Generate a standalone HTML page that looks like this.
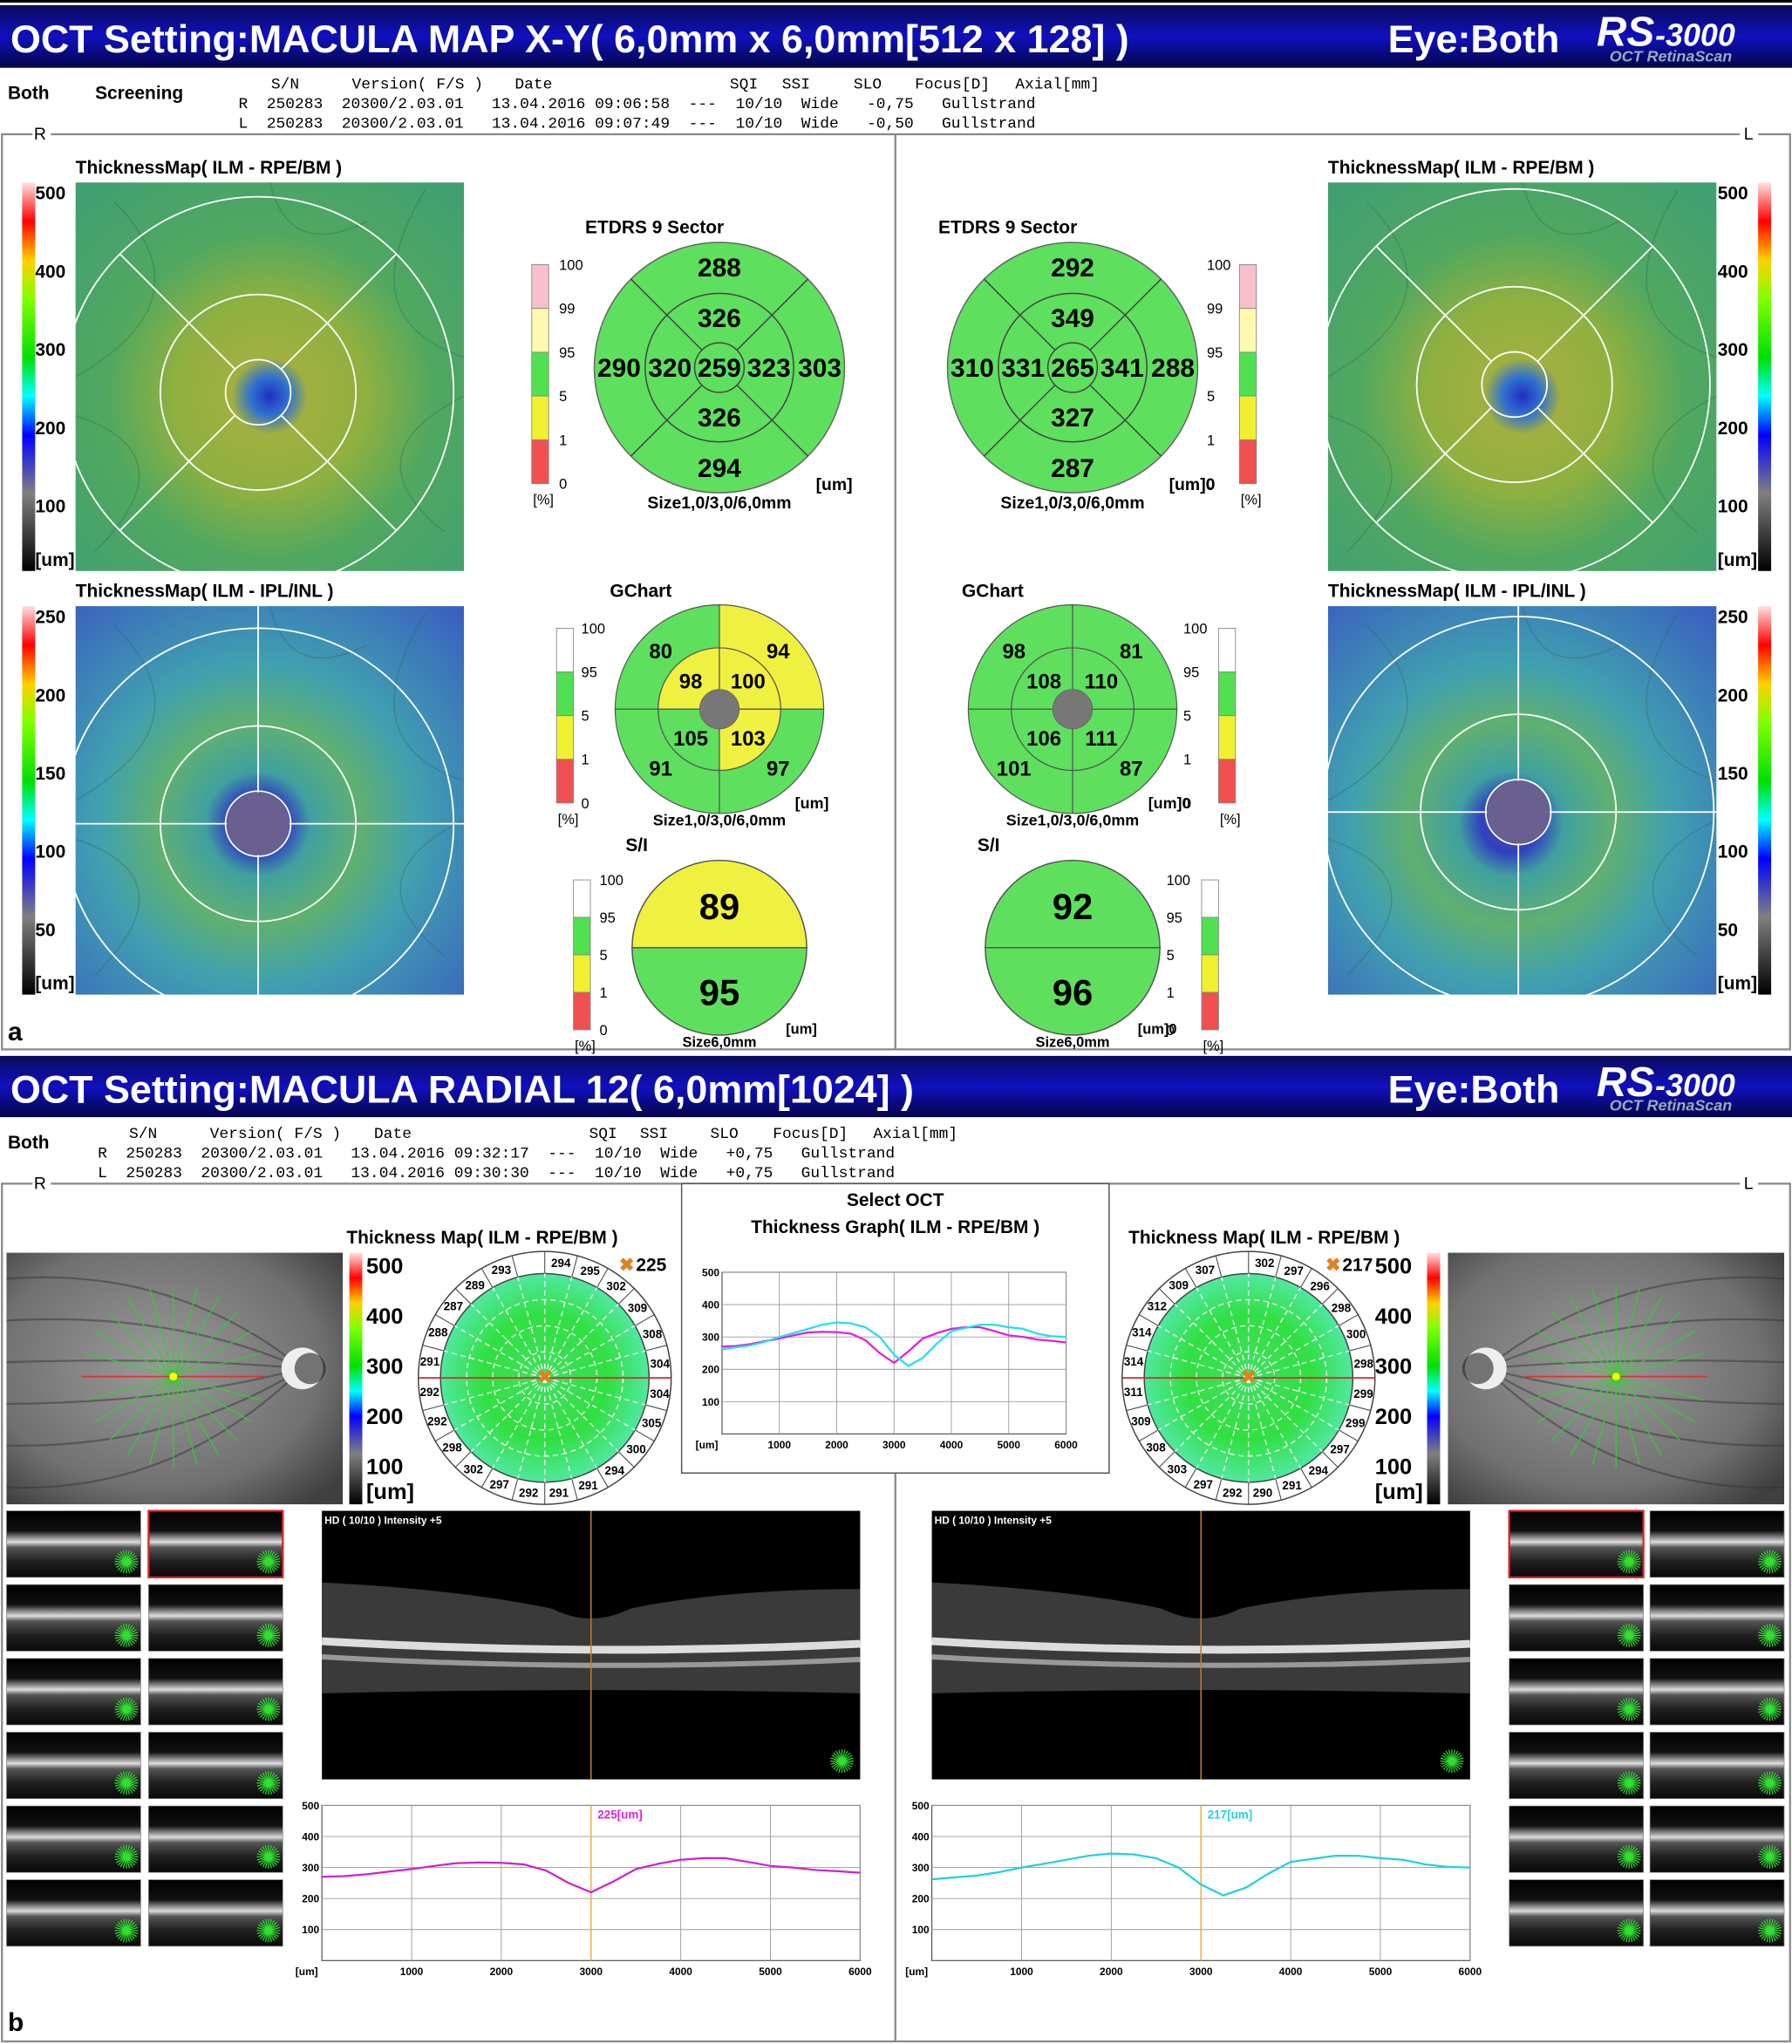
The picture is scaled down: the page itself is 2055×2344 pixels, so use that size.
<!DOCTYPE html>
<html><head><meta charset="utf-8">
<style>
html,body{margin:0;padding:0;background:#fff;}
svg{display:block;font-family:"Liberation Sans",Arial,sans-serif;}
.mono{font-family:"Liberation Mono",monospace;white-space:pre;}
.mono text{white-space:pre;}
</style></head>
<body>
<svg id="root" width="2055" height="2344" viewBox="0 0 1375 1568" preserveAspectRatio="none" xmlns="http://www.w3.org/2000/svg" xml:space="preserve">
<defs>
<linearGradient id="hdr" x1="0" y1="0" x2="0" y2="1"><stop offset="0" stop-color="#0a0a5a"/><stop offset="0.5" stop-color="#1010c0"/><stop offset="1" stop-color="#05054a"/></linearGradient>
<linearGradient id="rainbow" x1="0" y1="0" x2="0" y2="1">
<stop offset="0" stop-color="#ffe0e0"/><stop offset="0.1" stop-color="#ff0000"/><stop offset="0.2" stop-color="#ffd000"/><stop offset="0.3" stop-color="#80ff00"/><stop offset="0.45" stop-color="#00e000"/><stop offset="0.55" stop-color="#00ffff"/><stop offset="0.65" stop-color="#0000ff"/><stop offset="0.8" stop-color="#808080"/><stop offset="1" stop-color="#000"/></linearGradient>
<radialGradient id="thick1" cx="0.5" cy="0.55" r="0.7"><stop offset="0" stop-color="#2030c0"/><stop offset="0.07" stop-color="#3070d0"/><stop offset="0.14" stop-color="#a0b040"/><stop offset="0.35" stop-color="#90b040"/><stop offset="0.6" stop-color="#50a860"/><stop offset="1" stop-color="#40a070"/></radialGradient>
<radialGradient id="thick2" cx="0.47" cy="0.56" r="0.75"><stop offset="0" stop-color="#5050a0"/><stop offset="0.1" stop-color="#3040c0"/><stop offset="0.18" stop-color="#40a0a0"/><stop offset="0.35" stop-color="#60b070"/><stop offset="0.55" stop-color="#40a0b0"/><stop offset="1" stop-color="#3a60c0"/></radialGradient>
<radialGradient id="polar" cx="0.5" cy="0.5" r="0.5"><stop offset="0" stop-color="#40e060"/><stop offset="0.6" stop-color="#30e040"/><stop offset="1" stop-color="#50e8a0"/></radialGradient>
<radialGradient id="fundus" cx="0.45" cy="0.45" r="0.7"><stop offset="0" stop-color="#9a9a9a"/><stop offset="0.7" stop-color="#707070"/><stop offset="1" stop-color="#404040"/></radialGradient>
<linearGradient id="bscan" x1="0" y1="0" x2="0" y2="1"><stop offset="0" stop-color="#000"/><stop offset="0.3" stop-color="#111"/><stop offset="0.4" stop-color="#888"/><stop offset="0.47" stop-color="#ddd"/><stop offset="0.55" stop-color="#555"/><stop offset="0.75" stop-color="#222"/><stop offset="1" stop-color="#080808"/></linearGradient>
</defs>

<rect x="0" y="0" width="1375" height="2" fill="#000"/>
<rect x="0" y="4" width="1375" height="48" fill="url(#hdr)"/>
<text x="8" y="40" font-size="30" font-weight="bold" fill="#fff">OCT Setting:MACULA MAP X-Y( 6,0mm x 6,0mm[512 x 128] )</text>
<text x="1065" y="40" font-size="30" font-weight="bold" fill="#fff">Eye:Both</text>
<g><text x="1225" y="35" font-size="32" font-weight="bold" font-style="italic" fill="#fff">RS</text><text x="1270" y="35" font-size="24" font-weight="bold" font-style="italic" fill="#fff">-3000</text><text x="1235" y="47" font-size="12" font-weight="bold" font-style="italic" fill="#9ab">OCT RetinaScan</text></g>

<g font-size="14">
<text x="6" y="76" font-weight="bold">Both</text><text x="73" y="76" font-weight="bold">Screening</text>
<g class="mono" font-size="12">
<text x="208" y="68">S/N</text><text x="270" y="68">Version( F/S )</text><text x="395" y="68">Date</text><text x="560" y="68">SQI</text><text x="600" y="68">SSI</text><text x="655" y="68">SLO</text><text x="702" y="68">Focus[D]</text><text x="779" y="68">Axial[mm]</text>
<text x="183" y="83">R  250283  20300/2.03.01   13.04.2016 09:06:58  ---  10/10  Wide   -0,75   Gullstrand</text>
<text x="183" y="98">L  250283  20300/2.03.01   13.04.2016 09:07:49  ---  10/10  Wide   -0,50   Gullstrand</text>
</g></g>

<rect x="1.5" y="103" width="1372" height="702" fill="none" stroke="#888" stroke-width="1.5"/>
<line x1="687" y1="103" x2="687" y2="805" stroke="#888" stroke-width="1.5"/>
<rect x="25" y="97" width="14" height="12" fill="#fff"/><text x="26" y="107" font-size="13">R</text>
<rect x="1335" y="97" width="14" height="12" fill="#fff"/><text x="1338" y="107" font-size="13">L</text>
<text x="6" y="798" font-size="20" font-weight="bold">a</text>

<g id="panelA"></g>

<rect x="0" y="810" width="1375" height="47" fill="url(#hdr)"/>
<text x="8" y="846" font-size="30" font-weight="bold" fill="#fff">OCT Setting:MACULA RADIAL 12( 6,0mm[1024] )</text>
<text x="1065" y="846" font-size="30" font-weight="bold" fill="#fff">Eye:Both</text>
<g><text x="1225" y="841" font-size="32" font-weight="bold" font-style="italic" fill="#fff">RS</text><text x="1270" y="841" font-size="24" font-weight="bold" font-style="italic" fill="#fff">-3000</text><text x="1235" y="852" font-size="12" font-weight="bold" font-style="italic" fill="#9ab">OCT RetinaScan</text></g>

<g font-size="14">
<text x="6" y="881" font-weight="bold">Both</text>
<g class="mono" font-size="12">
<text x="99" y="873">S/N</text><text x="161" y="873">Version( F/S )</text><text x="287" y="873">Date</text><text x="452" y="873">SQI</text><text x="491" y="873">SSI</text><text x="545" y="873">SLO</text><text x="593" y="873">Focus[D]</text><text x="670" y="873">Axial[mm]</text>
<text x="75" y="888">R  250283  20300/2.03.01   13.04.2016 09:32:17  ---  10/10  Wide   +0,75   Gullstrand</text>
<text x="75" y="903">L  250283  20300/2.03.01   13.04.2016 09:30:30  ---  10/10  Wide   +0,75   Gullstrand</text>
</g></g>

<rect x="1.5" y="908" width="1372" height="658" fill="none" stroke="#888" stroke-width="1.5"/>
<line x1="687" y1="1130" x2="687" y2="1566" stroke="#888" stroke-width="1.5"/>
<rect x="25" y="902" width="14" height="12" fill="#fff"/><text x="26" y="912" font-size="13">R</text>
<rect x="1335" y="902" width="14" height="12" fill="#fff"/><text x="1338" y="912" font-size="13">L</text>
<text x="6" y="1558" font-size="20" font-weight="bold">b</text>
<rect x="523" y="908" width="328" height="222" fill="#fff" stroke="#555"/>
<text x="687" y="925" font-size="14" font-weight="bold" text-anchor="middle">Select OCT</text>
<text x="687" y="946" font-size="14" font-weight="bold" text-anchor="middle">Thickness Graph( ILM - RPE/BM )</text>
<text x="370" y="954" font-size="14" font-weight="bold" text-anchor="middle">Thickness Map( ILM - RPE/BM )</text>
<text x="970" y="954" font-size="14" font-weight="bold" text-anchor="middle">Thickness Map( ILM - RPE/BM )</text>

<g id="panelB"></g>
</svg>

<script>
const graphX = [0,250,500,750,1000,1250,1500,1750,2000,2250,2500,2750,3000,3250,3500,3750,4000,4250,4500,4750,5000,5250,5500,5750,6000];
const rightEyeThickness = [270,272,278,287,295,305,314,316,315,310,290,250,220,255,295,312,325,330,330,318,305,300,292,288,283];
const leftEyeThickness = [262,268,274,285,300,312,325,338,345,342,330,300,245,210,235,280,318,328,338,338,330,325,310,302,300];
const yTicks = [100,200,300,400,500];
const xTicks = [1000,2000,3000,4000,5000,6000];
const etdrsR = [288,326,290,320,259,323,303,326,294];
const etdrsL = [292,349,310,331,265,341,288,327,287];
const gchartR = [80,94,98,100,105,103,91,97];
const gchartL = [98,81,108,110,106,111,101,87];
const siR = [89,95];
const siL = [92,96];
const polarLabelsR = [294,295,302,309,308,304,304,305,300,294,291,291,292,297,302,298,292,292,291,288,287,289,293];
const polarLabelsL = [302,297,296,298,300,298,299,299,297,294,291,290,292,297,303,308,309,311,314,314,312,309,307];

const NS="http://www.w3.org/2000/svg";
function el(parent,tag,attrs,txt){const e=document.createElementNS(NS,tag);for(const k in attrs)e.setAttribute(k,attrs[k]);if(txt!==undefined)e.textContent=txt;parent.appendChild(e);return e;}
const A=document.getElementById('panelA'), B=document.getElementById('panelB');

function thickMap(x,y,s,grad,cross,rc,titleX,title){
  const g=el(A,'g',{});
  
  
  el(g,'rect',{x:x,y:y,width:s,height:s,fill:'url(#'+grad+')'});
  const vs=[[0.1,0.05,0.35,0.3,0.0,0.5],[0.9,0.02,0.7,0.35,1.0,0.45],[0.05,0.95,0.3,0.7,0.0,0.6],[0.95,0.9,0.7,0.7,1.0,0.55],[0.5,0.0,0.55,0.2,0.75,0.1]];
  vs.forEach(v=>el(g,'path',{d:`M${x+v[0]*s} ${y+v[1]*s} Q ${x+v[2]*s} ${y+v[3]*s} ${x+v[4]*s} ${y+v[5]*s}`,stroke:'#2a5a4a','stroke-width':1,fill:'none',opacity:0.3}));
  const cx=x+s*rc[0], cy=y+s*rc[1];
  [25,75,150].forEach(r=>el(g,'circle',{cx:cx,cy:cy,r:r,fill:'none',stroke:'#fff','stroke-width':1.2}));
  if(cross){
    el(g,'line',{x1:x,y1:cy,x2:x+s,y2:cy,stroke:'#fff','stroke-width':1.2});
    el(g,'line',{x1:cx,y1:y,x2:cx,y2:y+s,stroke:'#fff','stroke-width':1.2});
    el(g,'circle',{cx:cx,cy:cy,r:24,fill:'#6a6090'});
  } else {
    const d=25/Math.SQRT2,D=150/Math.SQRT2;
    [[1,1],[1,-1],[-1,1],[-1,-1]].forEach(([a,b])=>el(g,'line',{x1:cx+a*d,y1:cy+b*d,x2:cx+a*D,y2:cy+b*D,stroke:'#fff','stroke-width':1.2}));
  }
  el(g,'text',{x:titleX,y:y-7,'font-size':14,'font-weight':'bold'},title);
}
function colorbar(parent,x,y,h,labels,tx){
  el(parent,'rect',{x:x,y:y,width:10,height:h,fill:'url(#rainbow)'});
  labels.forEach((l,i)=>{const yy=(i==labels.length-1)?y+h-4:y+13+i*60;el(parent,'text',{x:tx,y:yy,'font-size':14,'font-weight':'bold'},l);});
}
thickMap(58,140,298,'thick1',false,[0.47,0.54],58,'ThicknessMap( ILM - RPE/BM )');
thickMap(58,465,298,'thick2',true,[0.47,0.56],58,'ThicknessMap( ILM - IPL/INL )');
thickMap(1019,140,298,'thick1',false,[0.48,0.52],1019,'ThicknessMap( ILM - RPE/BM )');
thickMap(1019,465,298,'thick2',true,[0.49,0.53],1019,'ThicknessMap( ILM - IPL/INL )');
colorbar(A,17,140,298,['500','400','300','200','100','[um]'],27);
colorbar(A,17,465,298,['250','200','150','100','50','[um]'],27);
colorbar(A,1349,140,298,['500','400','300','200','100','[um]'],1318);
colorbar(A,1349,465,298,['250','200','150','100','50','[um]'],1318);

function pbar(x,y,h,labelsRight,lx){
  const g=el(A,'g',{});
  
  
  const segs=[['#f8c0cc',0.2],['#fff8b0',0.2],['#50e050',0.2],['#f0f030',0.2],['#f05050',0.2]];
  let yy=y;segs.forEach(s=>{el(g,'rect',{x:x,y:yy,width:13,height:h*s[1],fill:s[0],stroke:'#888','stroke-width':0.6});yy+=h*s[1];});
  ['100','99','95','5','1','0'].forEach((t,i)=>el(g,'text',{x:lx,y:y+4+i*h/5,'font-size':11},t));
  el(g,'text',{x:x+1,y:y+h+16,'font-size':11},'[%]');
}
pbar(408,203,168,true,429);
pbar(951,203,168,true,926);

function etdrs(cx,cy,vals,title,tx){
  const g=el(A,'g',{});
  
  
  el(g,'text',{x:tx,y:179,'font-size':14,'font-weight':'bold'},title);
  el(g,'circle',{cx:cx,cy:cy,r:96,fill:'#5ee05e',stroke:'#666'});
  el(g,'circle',{cx:cx,cy:cy,r:57,fill:'none',stroke:'#444'});
  el(g,'circle',{cx:cx,cy:cy,r:19,fill:'none',stroke:'#444'});
  const d1=19/Math.SQRT2,d2=96/Math.SQRT2;
  [[1,1],[1,-1],[-1,1],[-1,-1]].forEach(([a,b])=>el(g,'line',{x1:cx+a*d1,y1:cy+b*d1,x2:cx+a*d2,y2:cy+b*d2,stroke:'#444'}));
  const pos=[[0,-77],[0,-38],[-77,0],[-38,0],[0,0],[38,0],[77,0],[0,38],[0,77]];
  pos.forEach((p,i)=>el(g,'text',{x:cx+p[0],y:cy+p[1]+7,'font-size':20,'font-weight':'bold','text-anchor':'middle'},vals[i]));
  el(g,'text',{x:cx,y:390,'font-size':13,'font-weight':'bold','text-anchor':'middle'},'Size1,0/3,0/6,0mm');
}
etdrs(552,282,etdrsR,'ETDRS 9 Sector',449);
etdrs(823,282,etdrsL,'ETDRS 9 Sector',720);
el(A,'text',{x:626,y:376,'font-size':13,'font-weight':'bold'},'[um]');
el(A,'text',{x:897,y:376,'font-size':13,'font-weight':'bold'},'[um]0');

function smallBar(x,y,h,lx){
  const g=el(A,'g',{});
  
  
  const segs=[['#fff',0.25],['#50e050',0.25],['#f0f030',0.25],['#f05050',0.25]];
  let yy=y;segs.forEach(s=>{el(g,'rect',{x:x,y:yy,width:13,height:h*s[1],fill:s[0],stroke:'#888','stroke-width':0.6});yy+=h*s[1];});
  ['100','95','5','1','0'].forEach((t,i)=>el(g,'text',{x:lx,y:y+4+i*h/4,'font-size':11},t));
  el(g,'text',{x:x+1,y:y+h+16,'font-size':11},'[%]');
}
smallBar(427,482,134,446);smallBar(935,482,134,908);
function sector(g,cx,cy,r0,r1,a0,a1,fill){
  const p=(r,a)=>[cx+r*Math.cos(a*Math.PI/180),cy+r*Math.sin(a*Math.PI/180)];
  const [x1,y1]=p(r1,a0),[x2,y2]=p(r1,a1),[x3,y3]=p(r0,a1),[x4,y4]=p(r0,a0);
  el(g,'path',{d:`M${x1} ${y1}A${r1} ${r1} 0 0 1 ${x2} ${y2}L${x3} ${y3}A${r0} ${r0} 0 0 0 ${x4} ${y4}Z`,fill:fill,stroke:'#555','stroke-width':0.8});
}
function gchart(cx,cy,vals,colsOuter,colsInner,tx){
  const g=el(A,'g',{});
  
  
  el(g,'text',{x:tx,y:458,'font-size':14,'font-weight':'bold'},'GChart');
  const angs=[[180,270],[270,360],[90,180],[0,90]];
  angs.forEach((a,i)=>sector(g,cx,cy,47,80,a[0],a[1],colsOuter[i]));
  angs.forEach((a,i)=>sector(g,cx,cy,15,47,a[0],a[1],colsInner[i]));
  el(g,'circle',{cx:cx,cy:cy,r:15,fill:'#777'});
  const op=[[-45,-45],[45,-45],[-45,45],[45,45]],ip=[[-22,-22],[22,-22],[-22,22],[22,22]];
  const P=[op[0],op[1],ip[0],ip[1],ip[2],ip[3],op[2],op[3]];
  P.forEach((p,i)=>el(g,'text',{x:cx+p[0],y:cy+p[1]+6,'font-size':16,'font-weight':'bold','text-anchor':'middle'},vals[i]));
  el(g,'text',{x:cx,y:633,'font-size':12,'font-weight':'bold','text-anchor':'middle'},'Size1,0/3,0/6,0mm');
}
const G='#5ee05e',Y='#f0f040';
gchart(552,544,gchartR,[G,Y,G,G],[Y,Y,G,Y],468);
gchart(823,544,gchartL,[G,G,G,G],[G,G,G,G],738);
el(A,'text',{x:610,y:620,'font-size':12,'font-weight':'bold'},'[um]');
el(A,'text',{x:881,y:620,'font-size':12,'font-weight':'bold'},'[um]0');

function si(cx,cy,vals,topCol,tx){
  const g=el(A,'g',{});
  
  
  el(g,'text',{x:tx,y:653,'font-size':14,'font-weight':'bold'},'S/I');
  el(g,'path',{d:`M${cx-67} ${cy}A67 67 0 0 1 ${cx+67} ${cy}Z`,fill:topCol,stroke:'#555'});
  el(g,'path',{d:`M${cx-67} ${cy}A67 67 0 0 0 ${cx+67} ${cy}Z`,fill:G,stroke:'#555'});
  el(g,'text',{x:cx,y:cy-22,'font-size':28,'font-weight':'bold','text-anchor':'middle'},vals[0]);
  el(g,'text',{x:cx,y:cy+44,'font-size':28,'font-weight':'bold','text-anchor':'middle'},vals[1]);
  el(g,'text',{x:cx,y:803,'font-size':11,'font-weight':'bold','text-anchor':'middle'},'Size6,0mm');
}
si(552,727,siR,Y,480);si(823,727,siL,G,750);
smallBar(440,675,115,460);smallBar(922,675,115,895);
el(A,'text',{x:603,y:793,'font-size':11,'font-weight':'bold'},'[um]');
el(A,'text',{x:873,y:793,'font-size':11,'font-weight':'bold'},'[um]0');

function fundus(x,y,w,h,discX,fovX,fovY,lineDir){
  const g=el(B,'g',{});
  
  
  el(g,'rect',{x:x,y:y,width:w,height:h,fill:'url(#fundus)'});
  for(let i=0;i<6;i++){el(g,'path',{d:`M${discX} ${y+h*0.46} Q ${x+w*0.5} ${y+10+i*35} ${x+(lineDir>0?0:w)} ${y+20+i*32}`,stroke:'#333','stroke-width':1.5,fill:'none',opacity:0.5});}
  el(g,'circle',{cx:discX,cy:y+h*0.46,r:16,fill:'#eee'});
  el(g,'circle',{cx:discX+lineDir*6,cy:y+h*0.46,r:12,fill:'#222',opacity:0.6});
  for(let i=0;i<12;i++){const a=i*Math.PI/12;el(g,'line',{x1:fovX-70*Math.cos(a),y1:fovY-70*Math.sin(a),x2:fovX+70*Math.cos(a),y2:fovY+70*Math.sin(a),stroke:'#30d030','stroke-width':0.8});}
  el(g,'line',{x1:fovX-70*lineDir,y1:fovY,x2:fovX+70*lineDir,y2:fovY,stroke:'#e03030','stroke-width':1.2});
  el(g,'circle',{cx:fovX,cy:fovY,r:3,fill:'#ff0'});
}
fundus(5,961,258,193,232,133,1056,1);
fundus(1111,961,258,193,1140,1240,1056,-1);
el(B,'rect',{x:268,y:961,width:10,height:193,fill:'url(#rainbow)'});
el(B,'rect',{x:1095,y:961,width:10,height:193,fill:'url(#rainbow)'});
['500','400','300','200','100'].forEach((t,i)=>{el(B,'text',{x:281,y:977+i*38.5,'font-size':17,'font-weight':'bold'},t);el(B,'text',{x:1055,y:977+i*38.5,'font-size':17,'font-weight':'bold'},t);});
el(B,'text',{x:281,y:1150,'font-size':17,'font-weight':'bold'},'[um]');
el(B,'text',{x:1055,y:1150,'font-size':17,'font-weight':'bold'},'[um]');

function polar(cx,cy,labels,hl,hx){
  const g=el(B,'g',{});
  
  
  el(g,'circle',{cx:cx,cy:cy,r:97,fill:'#fff',stroke:'#444'});
  el(g,'circle',{cx:cx,cy:cy,r:80,fill:'url(#polar)',stroke:'#444'});
  for(let i=0;i<24;i++){const a=i*Math.PI/12;el(g,'line',{x1:cx+80*Math.cos(a),y1:cy+80*Math.sin(a),x2:cx+97*Math.cos(a),y2:cy+97*Math.sin(a),stroke:'#444','stroke-width':0.7});
    el(g,'line',{x1:cx,y1:cy,x2:cx+80*Math.cos(a),y2:cy+80*Math.sin(a),stroke:'#fff','stroke-width':0.9,'stroke-dasharray':'4 3'});}
  [20,40,60].forEach(r=>el(g,'circle',{cx:cx,cy:cy,r:r,fill:'none',stroke:'#fff','stroke-width':0.9,'stroke-dasharray':'4 3'}));
  el(g,'line',{x1:cx-97,y1:cy,x2:cx+97,y2:cy,stroke:'#c03030','stroke-width':1.2});
  labels.forEach((l,i)=>{const a=(-82+i*15)*Math.PI/180;el(g,'text',{x:cx+89*Math.cos(a),y:cy+89*Math.sin(a)+3,'font-size':9,'font-weight':'bold','text-anchor':'middle'},l);});
  el(g,'text',{x:cx,y:cy+4,'font-size':14,fill:'#e08020','text-anchor':'middle','font-weight':'bold'},'✖');
  el(g,'text',{x:hx,y:975,'font-size':14,fill:'#e08020','font-weight':'bold'},'✖');
  el(g,'text',{x:hx+13,y:975,'font-size':14,'font-weight':'bold'},hl);
}
polar(418,1057,polarLabelsR,'225',475);
polar(958,1057,polarLabelsL,'217',1017);

function thumb(x,y,sel){
  const g=el(B,'g',{});
  
  
  el(g,'rect',{x:x,y:y,width:103,height:51,fill:'url(#bscan)',stroke:sel?'#e02020':'#888','stroke-width':sel?1.5:0.5});
  const cx=x+92,cy=y+39;
  for(let i=0;i<12;i++){const a=i*Math.PI/12;el(g,'line',{x1:cx-9*Math.cos(a),y1:cy-9*Math.sin(a),x2:cx+9*Math.cos(a),y2:cy+9*Math.sin(a),stroke:'#30e030','stroke-width':0.8});}
}
for(let r=0;r<6;r++){for(let c=0;c<2;c++){thumb(5+c*109,1159+r*56.6,r==0&&c==1);thumb(1158+c*108,1159+r*56.6,r==0&&c==0);}}

function bscan(x,y,w,h){
  const g=el(B,'g',{});
  
  
  el(g,'rect',{x:x,y:y,width:w,height:h,fill:'#000'});
  const m=x+w*0.5;
  el(g,'path',{d:`M${x} ${y+55} Q ${x+w*0.25} ${y+60} ${m-30} ${y+75} Q ${m} ${y+90} ${m+30} ${y+75} Q ${x+w*0.75} ${y+60} ${x+w} ${y+60} L ${x+w} ${y+140} Q ${m} ${y+135} ${x} ${y+140} Z`,fill:'#3a3a3a'});
  el(g,'path',{d:`M${x} ${y+100} Q ${m} ${y+112} ${x+w} ${y+102}`,stroke:'#ddd','stroke-width':6,fill:'none'});
  el(g,'path',{d:`M${x} ${y+112} Q ${m} ${y+124} ${x+w} ${y+114}`,stroke:'#999','stroke-width':4,fill:'none'});
  el(g,'line',{x1:x+w*0.5,y1:y,x2:x+w*0.5,y2:y+h,stroke:'#c08020','stroke-width':1});
  el(g,'text',{x:x+2,y:y+10,'font-size':8,fill:'#fff','font-weight':'bold'},'HD ( 10/10 ) Intensity +5');
  const cx=x+w-14,cy=y+h-14;
  for(let i=0;i<12;i++){const a=i*Math.PI/12;el(g,'line',{x1:cx-9*Math.cos(a),y1:cy-9*Math.sin(a),x2:cx+9*Math.cos(a),y2:cy+9*Math.sin(a),stroke:'#30e030','stroke-width':0.8});}
}
bscan(247,1159,413,206);
bscan(715,1159,413,206);

function graph(x0,x1,y0,y1,seriesList,fs,cursorLabel,cursorColor){
  const g=el(B,'g',{});
  
  
  const xs=v=>x0+v/6000*(x1-x0), ys=v=>y1-v/500*(y1-y0);
  el(g,'rect',{x:x0,y:y0,width:x1-x0,height:y1-y0,fill:'#fff',stroke:'#555','stroke-width':0.8});
  yTicks.forEach(t=>{el(g,'line',{x1:x0,y1:ys(t),x2:x1,y2:ys(t),stroke:'#999','stroke-width':0.6});el(g,'text',{x:x0-2,y:ys(t)+3,'font-size':fs,'font-weight':'bold','text-anchor':'end'},t);});
  xTicks.forEach(t=>{el(g,'line',{x1:xs(t),y1:y0,x2:xs(t),y2:y1,stroke:'#999','stroke-width':0.6});el(g,'text',{x:xs(t),y:y1+fs+3,'font-size':fs,'font-weight':'bold','text-anchor':'middle'},t);});
  el(g,'text',{x:x0-3,y:y1+fs+3,'font-size':fs,'font-weight':'bold','text-anchor':'end'},'[um]');
  if(cursorLabel){el(g,'line',{x1:xs(3000),y1:y0,x2:xs(3000),y2:y1,stroke:'#f0b040','stroke-width':1});el(g,'text',{x:xs(3000)+5,y:y0+10,'font-size':9,fill:cursorColor,'font-weight':'bold'},cursorLabel);}
  seriesList.forEach(s=>{
    const line=el(g,'polyline',{points:graphX.map((v,i)=>xs(v)+','+ys(s[0][i])).join(' '),fill:'none',stroke:s[1],'stroke-width':1.5});
    
    
  });
}
graph(554,818,976,1100,[[rightEyeThickness,'#e020e0'],[leftEyeThickness,'#20e0f0']],8,null);
graph(247,660,1385,1504,[[rightEyeThickness,'#d020d0']],8,'225[um]','#e020e0');
graph(715,1128,1385,1504,[[leftEyeThickness,'#20d0e0']],8,'217[um]','#20d0e0');
</script>
</body></html>
